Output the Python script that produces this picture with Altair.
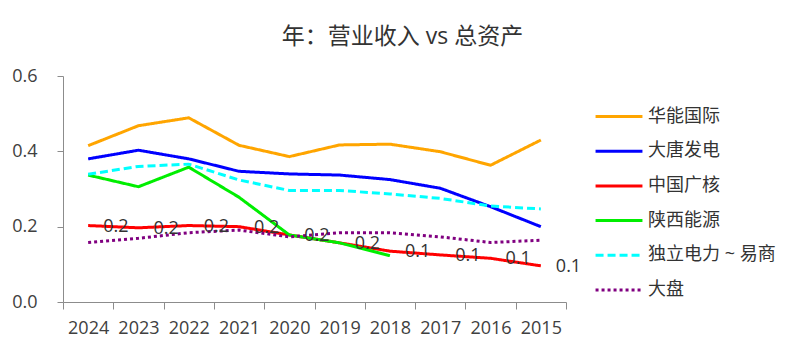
import altair as alt
import pandas as pd

years = ["2024", "2023", "2022", "2021", "2020", "2019", "2018", "2017", "2016", "2015"]
series = ["华能国际", "大唐发电", "中国广核", "陕西能源", "独立电力 ~ 易商", "大盘"]
huaneng = [0.415, 0.468, 0.489, 0.416, 0.386, 0.417, 0.419, 0.399, 0.363, 0.430]
datang = [0.380, 0.403, 0.380, 0.347, 0.340, 0.337, 0.325, 0.302, 0.253, 0.200]
cgn = [0.203, 0.197, 0.203, 0.200, 0.178, 0.157, 0.135, 0.125, 0.116, 0.096]
shaanxi = [0.337, 0.306, 0.358, 0.278, 0.178, 0.157, 0.123, None, None, None]
duli = [0.339, 0.360, 0.366, 0.324, 0.296, 0.296, 0.287, 0.275, 0.255, 0.247]
dapan = [0.158, 0.169, 0.184, 0.191, 0.173, 0.184, 0.184, 0.173, 0.158, 0.164]

colors = ["#FFA500", "#0000FF", "#FF0000", "#00EE00", "#00FFFF", "#800080"]
dashes = [[1, 0], [1, 0], [1, 0], [1, 0], [8, 4], [3, 3]]
widths = [3, 3, 5, 3, 3, 3]

rows = []
for name, vals in zip(series, [huaneng, datang, cgn, shaanxi, duli, dapan]):
    for y, v in zip(years, vals):
        if v is not None:
            rows.append({"year": y, "series": name, "value": v})
df = pd.DataFrame(rows)

FONT = "Open Sans, Noto Sans CJK SC"

legend = alt.Legend(
    orient="none", legendX=537, legendY=21.5, title=None,
    symbolType="M-1.34,0L1.34,0", symbolSize=1225,
    labelFontSize=18, labelFont=FONT, labelColor="#333333",
    labelOffset=10, rowPadding=6.7, padding=0, labelLimit=300,
)

x_enc = alt.X(
    "year:O", sort=years, bandPosition=0.5,
    scale=alt.Scale(type="band", paddingInner=0, paddingOuter=0),
    axis=alt.Axis(
        title=None, labelAngle=0, tickBand="extent", labelFontSize=18,
        labelFont=FONT, labelColor="#404040", domainColor="#8c8c8c",
        tickColor="#8c8c8c", tickSize=7, labelPadding=10,
    ),
)
y_enc = alt.Y(
    "value:Q",
    scale=alt.Scale(domain=[0, 0.6], nice=False),
    axis=alt.Axis(
        title=None, values=[0, 0.2, 0.4, 0.6], format=".1f", grid=False,
        labelFontSize=18, labelFont=FONT, labelColor="#404040",
        domainColor="#8c8c8c", tickColor="#8c8c8c", tickSize=6, labelPadding=20,
    ),
)

lines = alt.Chart(df).mark_line(strokeCap="butt").encode(
    x=x_enc,
    y=y_enc,
    color=alt.Color("series:N", scale=alt.Scale(domain=series, range=colors), legend=legend),
    strokeDash=alt.StrokeDash("series:N", scale=alt.Scale(domain=series, range=dashes), legend=legend),
    strokeWidth=alt.StrokeWidth("series:N", scale=alt.Scale(domain=series, range=widths), legend=legend),
)

labels = alt.Chart(df).transform_filter(
    alt.datum.series == "中国广核"
).mark_text(
    align="left", baseline="middle", dx=15, dy=1, fontSize=18, font=FONT, color="#333333"
).encode(
    x=alt.X("year:O", sort=years, bandPosition=0.5),
    y=alt.Y("value:Q"),
    text=alt.Text("value:Q", format=".1f"),
)

chart = alt.layer(lines, labels).properties(
    width=503, height=226,
    autosize=alt.AutoSizeParams(type="none"),
    padding={"left": 63, "top": 76, "right": 234, "bottom": 51},
    title=alt.TitleParams(
        "年：营业收入 vs 总资产", fontSize=23, fontWeight="normal", font=FONT,
        color="#333333", anchor="middle", dx=88, offset=18,
    ),
).configure_view(stroke=None)

chart.save("out.html", embed_options={"renderer": "svg", "actions": False})
